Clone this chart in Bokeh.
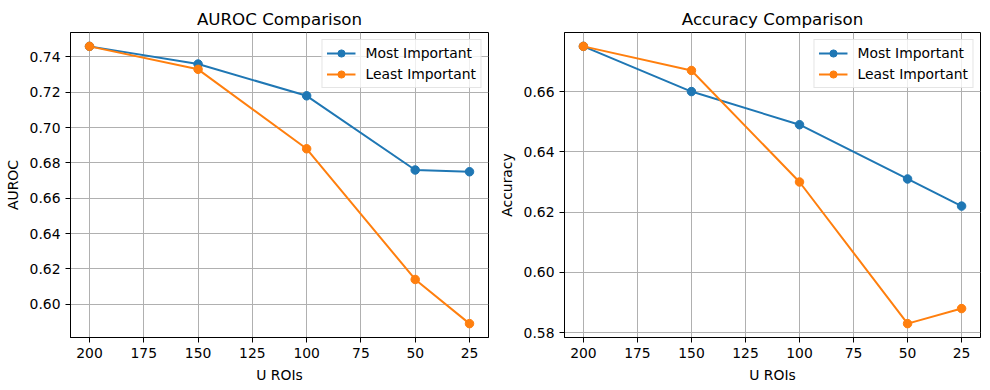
from bokeh.plotting import figure
from bokeh.layouts import row
from bokeh.models import FixedTicker, NumeralTickFormatter, Range1d, Legend, LegendItem
from bokeh.embed import file_html
from bokeh.resources import INLINE

# ---- data ----
n_rois = [200, 150, 100, 50, 25]
auroc_most = [0.746, 0.736, 0.718, 0.676, 0.675]
auroc_least = [0.746, 0.733, 0.688, 0.614, 0.589]
acc_most = [0.675, 0.660, 0.649, 0.631, 0.622]
acc_least = [0.675, 0.667, 0.630, 0.583, 0.588]
x_ticks = [200, 175, 150, 125, 100, 75, 50, 25]
auroc_ticks = [0.60, 0.62, 0.64, 0.66, 0.68, 0.70, 0.72, 0.74]
acc_ticks = [0.58, 0.60, 0.62, 0.64, 0.66]
series_names = ["Most Important", "Least Important"]
colors = ["#1f77b4", "#ff7f0e"]

FONT = "DejaVu Sans"
FS = "13.9px"


def pad_range(vals, frac=0.05, reverse=False):
    lo, hi = min(vals), max(vals)
    d = (hi - lo) * frac
    if reverse:
        return Range1d(hi + d, lo - d)
    return Range1d(lo - d, hi + d)


def make_panel(title, ylabel, most, least, yticks, bl, br):
    p = figure(width=495, height=390, output_backend="svg", toolbar_location=None,
               x_range=pad_range(n_rois, reverse=True),
               y_range=pad_range(most + least),
               min_border_left=bl, min_border_right=br,
               min_border_top=32, min_border_bottom=53)
    p.title.text = title
    p.title.align = "center"
    p.title.text_font = FONT
    p.title.text_font_size = "16.7px"
    p.title.text_font_style = "normal"
    p.title.text_color = "black"
    p.title.standoff = 7
    p.title.offset = 0

    p.outline_line_color = "black"
    p.outline_line_width = 1
    p.outline_line_alpha = 1

    for ax in (p.xaxis[0], p.yaxis[0]):
        ax.axis_line_color = "black"
        ax.major_tick_in = 0
        ax.major_tick_out = 5
        ax.minor_tick_line_color = None
        ax.major_label_text_font = FONT
        ax.major_label_text_font_size = FS
        ax.major_label_text_color = "black"
        ax.axis_label_text_font = FONT
        ax.axis_label_text_font_size = FS
        ax.axis_label_text_font_style = "normal"
        ax.axis_label_text_color = "black"
        ax.major_label_standoff = 5
        ax.axis_label_standoff = 6
    p.xaxis.ticker = FixedTicker(ticks=x_ticks)
    p.yaxis.ticker = FixedTicker(ticks=yticks)
    p.yaxis.formatter = NumeralTickFormatter(format="0.00")
    p.xaxis.axis_label = "U ROIs"
    p.yaxis.axis_label = ylabel

    p.grid.grid_line_color = "#b0b0b0"
    p.grid.grid_line_width = 1

    items = []
    for name, ys, c in zip(series_names, [most, least], colors):
        l = p.line(n_rois, ys, line_color=c, line_width=2)
        s = p.scatter(n_rois, ys, size=8.5, fill_color=c, line_color=c)
        items.append(LegendItem(label=name, renderers=[l, s]))
    leg = Legend(items=items, location="top_right")
    leg.label_text_font = FONT
    leg.label_text_font_size = FS
    leg.label_text_color = "black"
    leg.border_line_color = "#cccccc"
    leg.border_line_width = 1
    leg.background_fill_alpha = 0.8
    leg.margin = 7
    leg.padding = 4
    leg.spacing = 3
    leg.glyph_width = 29
    leg.glyph_height = 18
    leg.label_height = 18
    leg.label_standoff = 10
    p.add_layout(leg)
    return p


p1 = make_panel("AUROC Comparison", "AUROC", auroc_most, auroc_least, auroc_ticks, 70, 7)
p2 = make_panel("Accuracy Comparison", "Accuracy", acc_most, acc_least, acc_ticks, 68, 10)

layout = row(p1, p2)
open("out.html", "w").write(file_html(layout, INLINE))
